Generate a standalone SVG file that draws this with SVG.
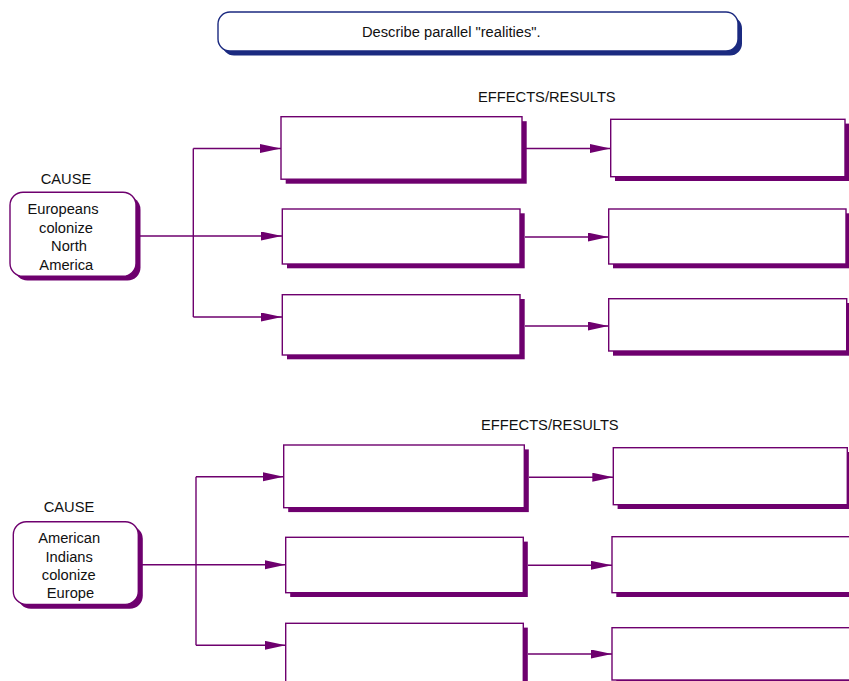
<svg xmlns="http://www.w3.org/2000/svg" width="849" height="681" viewBox="0 0 849 681">
<defs>
<style>
text{font-family:"Liberation Sans",Arial,sans-serif;font-size:14.7px;fill:#111}
.mid{text-anchor:middle}
.sh{fill:#6e006e}
.bx{fill:#fff;stroke:#6e006e;stroke-width:1.4}
.hsh{fill:#1b2a80}
.hbx{fill:#fff;stroke:#1b2a80;stroke-width:1.4}
.ln{fill:none;stroke:#6e006e;stroke-width:1.4}
</style>
<marker id="ah" markerUnits="userSpaceOnUse" markerWidth="22" markerHeight="10" refX="21" refY="4.5" orient="auto">
<path d="M0,0 L21,4.5 L0,9 z" fill="#6e006e"/>
</marker>
</defs>
<rect width="849" height="681" fill="#fff"/>

<g id="header">
<rect class="hsh" x="222" y="16.5" width="520" height="39" rx="12"/>
<rect class="hbx" x="218" y="12" width="520" height="39" rx="12"/>
<text x="362" y="37">Describe parallel "realities".</text>
</g>

<text id="effects1" x="478" y="102">EFFECTS/RESULTS</text>
<text id="effects2" x="481" y="430">EFFECTS/RESULTS</text>

<g id="connectors">
<path class="ln" d="M193.3,148.5 V317"/>
<path class="ln" d="M193.3,148.5 H281" marker-end="url(#ah)"/>
<path class="ln" d="M137,236 H282" marker-end="url(#ah)"/>
<path class="ln" d="M193.3,317 H282" marker-end="url(#ah)"/>
<path class="ln" d="M526,148.5 H610.5" marker-end="url(#ah)"/>
<path class="ln" d="M525,237 H608.5" marker-end="url(#ah)"/>
<path class="ln" d="M525,326 H608.5" marker-end="url(#ah)"/>

<path class="ln" d="M196,476.7 V645.3"/>
<path class="ln" d="M196,476.7 H283.7" marker-end="url(#ah)"/>
<path class="ln" d="M139,564.7 H285.7" marker-end="url(#ah)"/>
<path class="ln" d="M196,645.3 H285.7" marker-end="url(#ah)"/>
<path class="ln" d="M529,477.2 H613.3" marker-end="url(#ah)"/>
<path class="ln" d="M528,565.3 H612" marker-end="url(#ah)"/>
<path class="ln" d="M528,654 H612" marker-end="url(#ah)"/>
</g>

<g id="cause1">
<text class="mid" x="66" y="184">CAUSE</text>
<rect class="sh" x="14.5" y="196.5" width="126" height="84" rx="13"/>
<rect class="bx" x="10" y="192.3" width="126" height="84" rx="13"/>
<text class="mid" x="63" y="214.3">Europeans</text>
<text class="mid" x="66" y="233">colonize</text>
<text class="mid" x="69" y="251">North</text>
<text class="mid" x="66.3" y="270">America</text>
</g>

<g id="cause2">
<text class="mid" x="69" y="512.3">CAUSE</text>
<rect class="sh" x="17.8" y="526" width="125" height="82.7" rx="13"/>
<rect class="bx" x="13.3" y="521.7" width="125" height="82.7" rx="13"/>
<text class="mid" x="69.2" y="543.3">American</text>
<text class="mid" x="69.2" y="561.6">Indians</text>
<text class="mid" x="68.8" y="580">colonize</text>
<text class="mid" x="70.5" y="598.3">Europe</text>
</g>

<g id="effect1a"><rect class="sh" x="285.7" y="121.2" width="241" height="62.5"/><rect class="bx" x="281" y="116.7" width="241" height="62.5"/></g>
<g id="effect1b"><rect class="sh" x="615" y="123.6" width="234.3" height="57.4"/><rect class="bx" x="610.7" y="119.3" width="234.3" height="57.4"/></g>
<g id="effect2a"><rect class="sh" x="287" y="213.3" width="237.7" height="55"/><rect class="bx" x="282.3" y="209" width="237.7" height="55"/></g>
<g id="effect2b"><rect class="sh" x="613" y="213.3" width="237.3" height="55"/><rect class="bx" x="608.7" y="209" width="237.3" height="55"/></g>
<g id="effect3a"><rect class="sh" x="287" y="299" width="237.7" height="60.3"/><rect class="bx" x="282.3" y="294.7" width="237.7" height="60.3"/></g>
<g id="effect3b"><rect class="sh" x="613" y="303" width="238" height="52.7"/><rect class="bx" x="608.7" y="298.7" width="238" height="52.3"/></g>

<g id="effect4a"><rect class="sh" x="288.2" y="449.4" width="240.6" height="62.7"/><rect class="bx" x="283.7" y="445" width="240.6" height="62.7"/></g>
<g id="effect4b"><rect class="sh" x="617.6" y="452" width="234" height="57"/><rect class="bx" x="613.3" y="447.7" width="234" height="57"/></g>
<g id="effect5a"><rect class="sh" x="290.2" y="541.6" width="237.6" height="55.4"/><rect class="bx" x="285.7" y="537.3" width="237.6" height="55.4"/></g>
<g id="effect5b"><rect class="sh" x="616.3" y="541" width="240" height="56"/><rect class="bx" x="612" y="536.7" width="240" height="56"/></g>
<g id="effect6a"><rect class="sh" x="290.2" y="627.6" width="237.6" height="70"/><rect class="bx" x="285.7" y="623.3" width="237.6" height="70"/></g>
<g id="effect6b"><rect class="sh" x="616.3" y="632" width="240" height="52.3"/><rect class="bx" x="612" y="627.7" width="240" height="52.3"/></g>
</svg>
